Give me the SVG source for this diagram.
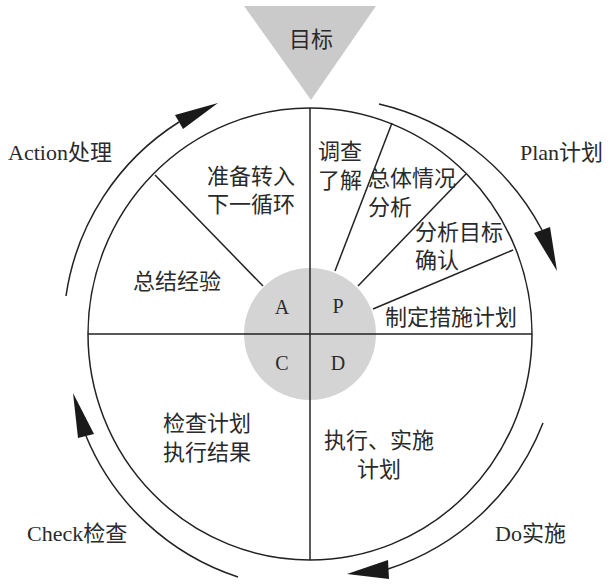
<svg xmlns="http://www.w3.org/2000/svg" width="609" height="585" viewBox="0 0 609 585">
<style>
.ln{stroke:#222;stroke-width:1.5;fill:none}
.ah{fill:#1a1a1a;stroke:none}
.t{font-family:"Liberation Serif","Noto Sans CJK SC",serif;font-size:22px;fill:#2a2a2a}
.c{text-anchor:middle}
.l{font-family:"Liberation Serif",serif;font-size:20px;fill:#2a2a2a;text-anchor:middle}
</style>
<rect width="609" height="585" fill="#fff"/>
<g id="goal">
<polygon points="244,6 376,6 311,100" fill="#cacaca"/>
<text class="t c" x="311" y="47">目标</text>
</g>
<g id="wheel">
<ellipse cx="310" cy="334" rx="222" ry="226" fill="#fff" class="ln"/>
<circle cx="310" cy="334" r="66" fill="#d4d4d4"/>
<line class="ln" x1="88" y1="334" x2="532" y2="334"/>
<line class="ln" x1="310" y1="108" x2="310" y2="560"/>
<line class="ln" x1="155" y1="175" x2="263" y2="286"/>
<line class="ln" x1="392" y1="123" x2="335" y2="271"/>
<line class="ln" x1="466" y1="174" x2="358" y2="286"/>
<line class="ln" x1="513" y1="250" x2="373" y2="309"/>
</g>
<g id="A"><text class="l" x="282" y="314">A</text></g>
<g id="P"><text class="l" x="338" y="313">P</text></g>
<g id="C"><text class="l" x="282" y="370">C</text></g>
<g id="D"><text class="l" x="338" y="370">D</text></g>
<g id="seg-next"><text class="t c" x="251" y="184">准备转入</text><text class="t c" x="251" y="212">下一循环</text></g>
<g id="seg-summary"><text class="t c" x="177" y="289">总结经验</text></g>
<g id="seg-survey"><text class="t" x="318" y="159">调查</text><text class="t" x="318" y="188">了解</text></g>
<g id="seg-overall"><text class="t" x="368" y="186">总体情况</text><text class="t" x="368" y="215">分析</text></g>
<g id="seg-target"><text class="t" x="415" y="240">分析目标</text><text class="t" x="415" y="268">确认</text></g>
<g id="seg-measures"><text class="t" x="385" y="325">制定措施计划</text></g>
<g id="seg-check"><text class="t c" x="207" y="431">检查计划</text><text class="t c" x="207" y="460">执行结果</text></g>
<g id="seg-do"><text class="t c" x="379" y="448">执行、实施</text><text class="t c" x="379" y="477">计划</text></g>
<g id="connectors">
<path class="ln" d="M66,296 A248,248 0 0 1 179,122"/>
<polygon class="ah" points="175,115 183,129 218,103"/>
<path class="ln" d="M379,104 A248,248 0 0 1 542,230"/>
<polygon class="ah" points="534,233 550,227 557,271"/>
<path class="ln" d="M543,423 A248,248 0 0 1 388,569"/>
<polygon class="ah" points="388,560 389,579 347,574"/>
<path class="ln" d="M238,577 A248,248 0 0 1 86,436"/>
<polygon class="ah" points="78,438 94,434 73,393"/>
</g>
<g id="label-action"><text class="t" x="8" y="160">Action处理</text></g>
<g id="label-plan"><text class="t" x="520" y="160">Plan计划</text></g>
<g id="label-do"><text class="t" x="495" y="541">Do实施</text></g>
<g id="label-check"><text class="t" x="27" y="541">Check检查</text></g>
</svg>
